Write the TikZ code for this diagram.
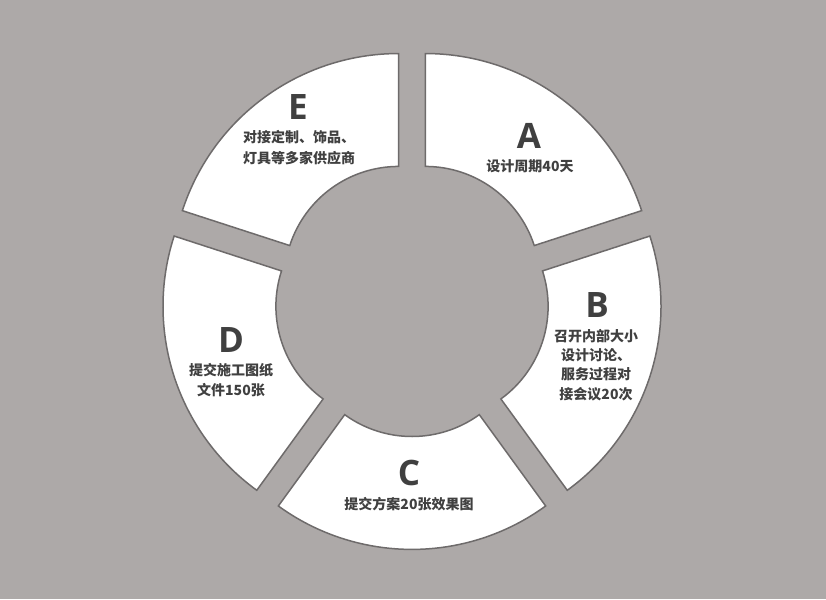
\documentclass[tikz,border=0pt]{standalone}
\usepackage{fontspec}
\setmainfont{Open Sans}
\newfontfamily\cjk{Noto Sans CJK SC}
\definecolor{bg}{HTML}{ADA9A8}
\definecolor{edge}{HTML}{6E6B6B}
\definecolor{ink}{HTML}{404040}
\begin{document}
\begin{tikzpicture}[x=1pt,y=-1pt,
  seg/.style={draw=edge,fill=white,line width=1.5pt,line join=miter},
  letter/.style={text=ink,font=\fontsize{35}{35}\selectfont\bfseries,inner sep=0pt},
  desc/.style={text=ink,font=\cjk\bfseries\fontsize{14}{20}\selectfont,align=center,inner sep=0pt}]
\useasboundingbox (0,0) rectangle (826,599);
\fill[bg] (0,0) rectangle (826,599);
\begin{scope}[shift={(412pt,-299.3pt)}]
\foreach \k in {0,...,4}{
  \pgfmathsetmacro{\ph}{54-72*\k}
  \pgfmathsetmacro{\sa}{\ph+36}
  \pgfmathsetmacro{\sb}{\ph-36}
  \begin{scope}[shift={(\ph:22.7pt)}]
  \draw[seg] (\sa:227.4pt) arc[start angle=\sa, end angle=\sb, radius=227.4pt]
    -- (\sb:114.5pt) arc[start angle=\sb, end angle=\sa, radius=114.5pt] -- cycle;
  \end{scope}
}
\end{scope}
\node[letter] (la) at (529,136) {A};
\node[desc] (ta) at (530,166) {设计周期40天};
\node[letter] (lb) at (597,305) {B};
\node[desc,font=\cjk\bfseries\fontsize{14}{19.4}\selectfont] (tb) at (596,365) {召开内部大小\\设计讨论、\\服务过程对\\接会议20次};
\node[letter] (lc) at (409,473) {C};
\node[desc] (tc) at (409,504) {提交方案20张效果图};
\node[letter] (ld) at (231,340) {D};
\node[desc] (td) at (231,380) {提交施工图纸\\文件150张};
\node[letter] (le) at (298,107) {E};
\node[desc,font=\cjk\bfseries\fontsize{14}{21}\selectfont] (te) at (299,148) {对接定制、饰品、\\灯具等多家供应商};
\end{tikzpicture}
\end{document}
